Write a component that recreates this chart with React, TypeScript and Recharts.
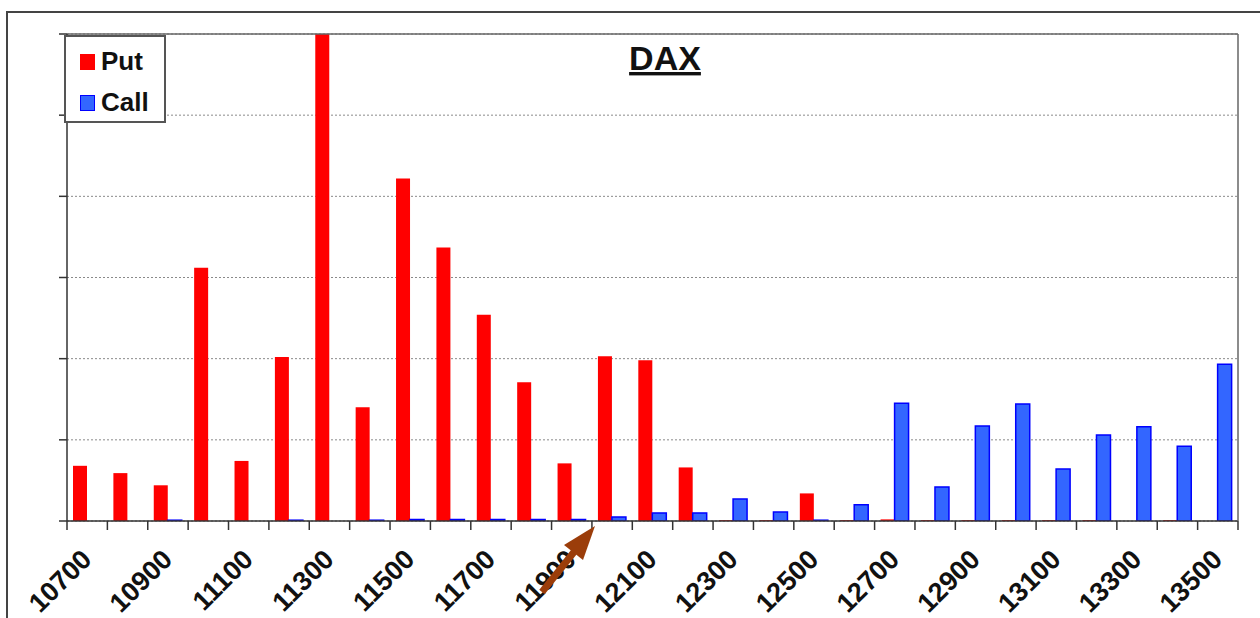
import React from "react";
import {
  BarChart,
  Bar,
  XAxis,
  YAxis,
  CartesianGrid,
  Legend,
  ReferenceLine,
} from "recharts";

const categories = [
  "10700", "10800", "10900", "11000", "11100", "11200", "11300", "11400",
  "11500", "11600", "11700", "11800", "11900", "12000", "12100", "12200",
  "12300", "12400", "12500", "12600", "12700", "12800", "12900", "13000",
  "13100", "13200", "13300", "13400", "13500",
];

const putValues = [
  0.68, 0.59, 0.44, 3.12, 0.74, 2.02, 6.0, 1.4, 4.22, 3.37, 2.54, 1.71, 0.71,
  2.03, 1.98, 0.66, 0.01, 0.01, 0.34, 0.01, 0.02, 0.01, 0.01, 0.01, 0.01, 0.01,
  0, 0.01, 0,
];

const callValues = [
  0, 0, 0.01, 0, 0, 0.01, 0, 0.01, 0.02, 0.02, 0.02, 0.02, 0.02, 0.05, 0.1,
  0.1, 0.27, 0.11, 0.01, 0.2, 1.45, 0.42, 1.17, 1.44, 0.64, 1.06, 1.16, 0.92,
  1.93,
];

const yTicks = [0, 1, 2, 3, 4, 5, 6];

const seriesOrder = ["Put", "Call"];
const titleText = "DAX";

const data = categories.map((c, i) => ({
  strike: c,
  put: putValues[i],
  call: callValues[i],
}));

const W = 1260;
const H = 618;
const LEFT = 67;
const RIGHT = 22;
const TOP = 34;
const XAXIS_H = 97;
const BAND = (W - LEFT - RIGHT) / categories.length;
const FONT = "'Liberation Sans', Arial, Helvetica, sans-serif";

const XTick = (props: any) => {
  const { x, y, payload } = props;
  const i = categories.indexOf(String(payload.value));
  const last = categories.length - 1;
  const lx = x + 6;
  const ly = y + 40;
  return (
    <g>
      <line x1={x - BAND / 2} x2={x - BAND / 2} y1={y} y2={y + 9} stroke="#333" strokeWidth={1.5} />
      {i === last && (
        <line x1={x + BAND / 2} x2={x + BAND / 2} y1={y} y2={y + 9} stroke="#333" strokeWidth={1.5} />
      )}
      {i % 2 === 0 && (
        <text
          x={lx}
          y={ly}
          transform={`rotate(-45 ${lx} ${ly})`}
          textAnchor="end"
          fontSize={27}
          fontWeight="bold"
          fontFamily={FONT}
          fill="#111"
        >
          {payload.value}
        </text>
      )}
    </g>
  );
};

const EmptyTick = () => <g />;

const LegendBox = (props: any) => {
  const items = [...(props.payload || [])].sort(
    (a: any, b: any) => seriesOrder.indexOf(a.value) - seriesOrder.indexOf(b.value)
  );
  return (
    <div
      style={{
        boxSizing: "border-box",
        width: 102,
        height: 88,
        border: "2px solid #555",
        background: "#fff",
        paddingTop: 4,
        paddingLeft: 14,
        fontFamily: FONT,
      }}
    >
      {items.map((p: any) => (
        <div
          key={p.value}
          style={{ display: "flex", alignItems: "center", height: 41 }}
        >
          <span
            style={{
              display: "inline-block",
              width: 15,
              height: 16,
              background: p.payload.fill,
              border: p.payload.stroke ? `1.5px solid ${p.payload.stroke}` : "none",
              boxSizing: "border-box",
              marginRight: 6,
            }}
          />
          <span style={{ fontSize: 26, fontWeight: "bold", color: "#111" }}>
            {p.value}
          </span>
        </div>
      ))}
    </div>
  );
};

export default function App() {
  return (
    <div
      style={{
        position: "absolute",
        left: 0,
        top: 0,
        width: W,
        height: H,
        overflow: "hidden",
        background: "#fff",
      }}
    >
      <div
        style={{
          position: "absolute",
          left: 6,
          top: 11,
          width: 1400,
          height: 800,
          border: "2px solid #444",
        }}
      />
      <div style={{ position: "absolute", left: 0, top: 0 }}>
        <BarChart
          width={W}
          height={H}
          data={data}
          margin={{ top: TOP, right: 0, left: 0, bottom: 0 }}
          barCategoryGap={6}
          barGap={0}
        >
          <CartesianGrid
            yAxisId={0}
            horizontal={true}
            vertical={false}
            horizontalValues={yTicks}
            stroke="#8a8a8a"
            strokeDasharray="2 2"
          />
          <XAxis
            dataKey="strike"
            height={XAXIS_H}
            interval={0}
            tickLine={false}
            tickSize={0}
            tickMargin={0}
            tick={<XTick />}
            axisLine={{ stroke: "#333", strokeWidth: 1.5 }}
          />
          <YAxis
            yAxisId={0}
            width={LEFT}
            domain={[0, 6]}
            ticks={yTicks}
            interval={0}
            tick={<EmptyTick />}
            tickSize={8}
            tickLine={{ stroke: "#333", strokeWidth: 1.5 }}
            axisLine={{ stroke: "#333", strokeWidth: 1.5 }}
            allowDataOverflow
          />
          <YAxis
            yAxisId="right"
            orientation="right"
            width={RIGHT}
            domain={[0, 6]}
            tick={false}
            tickLine={false}
            axisLine={{ stroke: "#666", strokeWidth: 1.5 }}
          />
          <ReferenceLine yAxisId={0} y={6} stroke="#666" strokeWidth={1.5} />
          <Legend
            layout="vertical"
            align="center"
            verticalAlign="middle"
            content={<LegendBox />}
            wrapperStyle={{ left: 64, top: 35, width: 102, height: 88 }}
          />
          <Bar
            yAxisId={0}
            dataKey="put"
            name="Put"
            fill="#ff0000"
            isAnimationActive={false}
          />
          <Bar
            yAxisId={0}
            dataKey="call"
            name="Call"
            fill="#3366ff"
            stroke="#0000ff"
            strokeWidth={1.5}
            isAnimationActive={false}
          />
        </BarChart>
      </div>
      <svg
        width={W}
        height={H}
        style={{ position: "absolute", left: 0, top: 0, pointerEvents: "none" }}
      >
        <text
          x={665}
          y={70}
          textAnchor="middle"
          fontSize={34}
          fontWeight="bold"
          fontFamily={FONT}
          fill="#111"
          textDecoration="underline"
        >
          {titleText}
        </text>
        <line x1={542} y1={592} x2={574} y2={552} stroke="#9b3d0a" strokeWidth={7} />
        <polygon points="595,526 583,560 564,545" fill="#9b3d0a" />
      </svg>
    </div>
  );
}
